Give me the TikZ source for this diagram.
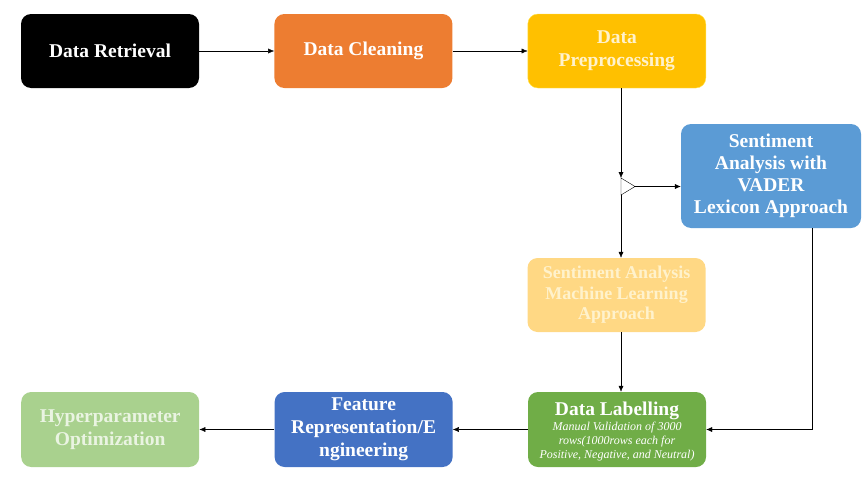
\documentclass[tikz,border=0pt]{standalone}
\usepackage{fontspec}
\setmainfont{Liberation Serif}
\usetikzlibrary{positioning}
\usetikzlibrary{arrows.meta}
\definecolor{cleanorange}{HTML}{ED7D31}
\definecolor{prepgold}{HTML}{FFC000}
\definecolor{prepedge}{HTML}{FFE34D}
\definecolor{vaderblue}{HTML}{5B9BD5}
\definecolor{mlyellow}{HTML}{FFD884}
\definecolor{creamtext}{HTML}{FFF2CC}
\definecolor{labelgreen}{HTML}{70AD47}
\definecolor{featblue}{HTML}{4472C4}
\definecolor{hypergreen}{HTML}{A9D18E}
\definecolor{hypertext}{HTML}{EAF4E2}
\newcommand{\noteit}{\fontsize{12}{14}\selectfont\mdseries\itshape}

\begin{document}
\begin{tikzpicture}[x=1pt, y=1pt,
        stage/.style={rounded corners=10pt, minimum width=178pt, minimum height=74pt,
                      align=center, text=white, inner sep=2pt,
                      font=\fontsize{19.5}{23}\selectfont\bfseries},
        flow/.style={draw, -{Latex[length=6pt,width=5pt]}},
        node distance=75pt]
    \useasboundingbox (0,0) rectangle (866,-479);
    % top row
    \node[stage, fill=black] (retrieval) at (110,-51) {Data Retrieval};
    \node[stage, fill=cleanorange, right=of retrieval] (cleaning) {Data Cleaning};
    \node[stage, fill=prepgold, draw=prepedge, text=creamtext, right=of cleaning] (preproc) {Data\\Preprocessing};
    % split
    \coordinate (tritop) at (621,-178);
    \coordinate (tribot) at (621,-195);
    \coordinate (triapex) at (635,-186.5);
    \draw[fill=white] (tritop) -- (triapex) -- (tribot) -- cycle;
    \node[stage, fill=vaderblue, minimum width=180pt, minimum height=104pt,
          font=\fontsize{19.5}{22}\selectfont\bfseries] (vader) at (771,-176)
        {Sentiment\\Analysis with\\VADER\\Lexicon Approach};
    \node[stage, fill=mlyellow, text=creamtext, font=\fontsize{18}{20.5}\selectfont\bfseries] (ml) at (616.5,-295)
        {Sentiment Analysis\\Machine Learning\\Approach};
    % bottom row
    \node[stage, fill=labelgreen, minimum height=75pt, font=\fontsize{19.5}{21}\selectfont\bfseries]
        (labelling) at (617,-429.5)
        {\rule{0pt}{20pt}Data Labelling\\
         \noteit\begin{tabular}{@{}c@{}}Manual Validation of 3000\\
         rows(1000rows each for\\Positive, Negative, and Neutral)\end{tabular}};
    \node[stage, fill=featblue, minimum height=75pt, left=of labelling] (feature)
        {Feature\\Representation/E\\ngineering};
    \node[stage, fill=hypergreen, text=hypertext, minimum height=75pt, left=of feature] (hyper)
        {Hyperparameter\\Optimization};
    % connectors
    \draw[flow] (retrieval) -- (cleaning);
    \draw[flow] (cleaning) -- (preproc);
    \draw[flow] (preproc.south -| tritop) -- (tritop);
    \draw[flow] (triapex) -- (triapex -| vader.west);
    \draw[flow] (tribot) -- (tribot |- ml.north);
    \draw[flow] (ml.south -| tritop) -- (labelling.north -| tritop);
    \draw[flow] (vader.south -| 812,0) |- (labelling.east);
    \draw[flow] (labelling) -- (feature);
    \draw[flow] (feature) -- (hyper);
\end{tikzpicture}
\end{document}
